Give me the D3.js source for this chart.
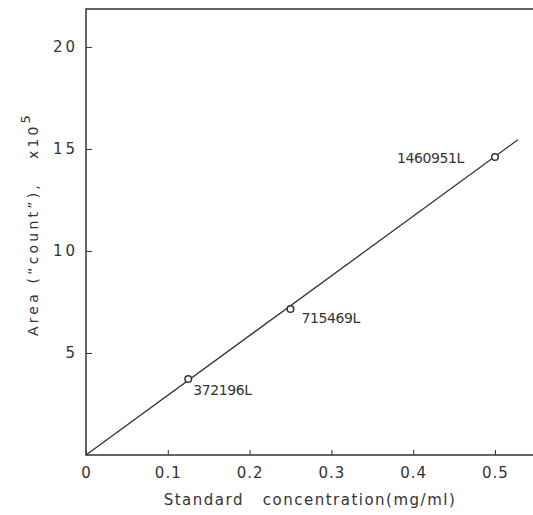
<html>
<title>Standard curve</title>
<script src="https://d3js.org/d3.v7.min.js"></script>
<style>
  body { margin:0; background:white; }
  text { font-family: "DejaVu Sans", sans-serif; fill:#333; }
</style>
<body>
<svg width=533 height=515></svg>
<script>
// measured standards (x: mg/ml, y: area x10^5)
var stdConc=[0.125,0.25,0.5];
var stdArea=[3.72196,7.15469,14.60951];
var stdLabels=["372196L","715469L","1460951L"];
// fitted line
var fitConc=[0,0.528];
var fitArea=[0,15.45];
var xTicks=[0,0.1,0.2,0.3,0.4,0.5];
var yTicks=[5,10,15,20];

var svg=d3.select("svg");
var plotL=86, plotR=533, plotT=9, plotB=455;

var xs=d3.scaleLinear().domain([0,0.5465]).range([plotL,plotR]);
var ys=d3.scaleLinear().domain([0,21.86]).range([plotB,plotT]);
var ink="#333";

// frame: top and left, bottom axis
svg.append("path")
  .attr("d","M"+plotR+","+plotT+"H"+plotL+"V"+plotB+"H"+plotR)
  .attr("fill","none").attr("stroke",ink).attr("stroke-width",1.5);

// x ticks point inward
var xa=svg.append("g").attr("transform","translate(0,"+plotB+")")
  .call(d3.axisBottom(xs).tickValues(xTicks).tickSizeInner(-5).tickSizeOuter(0).tickPadding(12)
    .tickFormat(function(d){return d==0?"0":d3.format(".1f")(d);}));
xa.select(".domain").remove();
xa.selectAll("line").attr("stroke",ink);
xa.selectAll("text").attr("font-size",15).style("letter-spacing","1px").attr("font-family","DejaVu Sans").attr("fill",ink);

var ya=svg.append("g").attr("transform","translate("+plotL+",0)")
  .call(d3.axisLeft(ys).tickValues(yTicks).tickSizeInner(-6).tickSizeOuter(0).tickPadding(8));
ya.select(".domain").remove();
ya.selectAll("line").attr("stroke",ink);
ya.selectAll("text").attr("font-size",15).style("letter-spacing","3px").attr("font-family","DejaVu Sans").attr("fill",ink);

// fitted line
svg.append("path")
  .datum(d3.zip(fitConc,fitArea))
  .attr("d",d3.line().x(function(d){return xs(d[0]);}).y(function(d){return ys(d[1]);}))
  .attr("fill","none").attr("stroke",ink).attr("stroke-width",1.3);

// points
svg.selectAll("circle").data(d3.zip(stdConc,stdArea)).enter().append("circle")
  .attr("cx",function(d){return xs(d[0]);})
  .attr("cy",function(d){return ys(d[1]);})
  .attr("r",3.3)
  .attr("fill","white").attr("stroke",ink).attr("stroke-width",1.5);

// point labels
var lblDx=[5,11,-98], lblDy=[16,14,6];
svg.selectAll(".plabel").data(d3.zip(stdConc,stdArea,stdLabels)).enter().append("text")
  .attr("class","plabel")
  .attr("x",function(d,i){return xs(d[0])+lblDx[i];})
  .attr("y",function(d,i){return ys(d[1])+lblDy[i];})
  .attr("font-size",14)
  .style("letter-spacing","-0.4px")
  .text(function(d){return d[2];});

// axis titles
svg.append("text")
  .attr("x",310).attr("y",505)
  .attr("text-anchor","middle")
  .attr("font-size",15)
  .style("letter-spacing","1.5px")
  .attr("xml:space","preserve")
  .text("Standard   concentration(mg/ml)");

var yt=svg.append("text")
  .attr("transform","translate(38,224) rotate(-90)")
  .attr("text-anchor","middle")
  .attr("font-size",14)
  .style("letter-spacing","3.2px")
  .attr("xml:space","preserve");
yt.append("tspan").text("Area (\u201ccount\u201d),   x10");
yt.append("tspan").attr("dy",-8).attr("font-size",13).text("5");
</script>
</body>
</html>
